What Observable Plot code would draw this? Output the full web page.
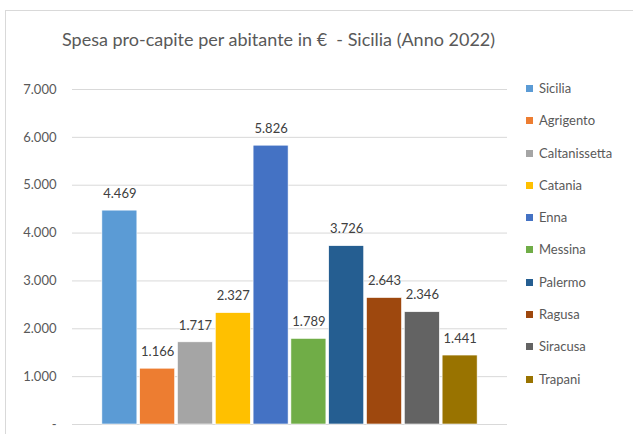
<!DOCTYPE html>
<html><head><meta charset="utf-8">
<script src="https://cdn.jsdelivr.net/npm/d3@7"></script>
<script src="https://cdn.jsdelivr.net/npm/@observablehq/plot@0.6"></script>
<style>
body{margin:0;background:#fff;font-family:Lato,"Open Sans",sans-serif;}
#wrap{position:relative;width:633px;height:434px;overflow:hidden;}
#border{position:absolute;left:5px;top:10px;width:640px;height:430px;border:1px solid #d9d9d9;box-sizing:border-box;}
#title{position:absolute;left:62px;top:28px;font-size:18px;color:#595959;white-space:nowrap;}
#legend{position:absolute;left:526px;top:80px;font-size:13px;color:#595959;}
.li{height:32.3px;display:flex;align-items:flex-start;line-height:17px;}
.sw{width:7px;height:7px;margin:5px 6px 0 0;}
#chart{position:absolute;left:0;top:0;}
</style></head>
<body><div id="wrap"><div id="border"></div><div id="chart"></div><div id="title">Spesa pro-capite per abitante in €&nbsp; - Sicilia (Anno 2022)</div><div id="legend"></div></div>
<script>
const categories = ["Sicilia","Agrigento","Caltanissetta","Catania","Enna","Messina","Palermo","Ragusa","Siracusa","Trapani"];
const values = [4469,1166,1717,2327,5826,1789,3726,2643,2346,1441];
const colors = ["#5B9BD5","#ED7D31","#A5A5A5","#FFC000","#4472C4","#70AD47","#255E91","#9E480E","#636363","#997300"];
const yTicks = [0,1000,2000,3000,4000,5000,6000,7000];

const it = d3.formatLocale({decimal:",",thousands:".",grouping:[3],currency:["","€"]});
const fmt = it.format(",d");
const tickFmt = v => v === 0 ? "-" : fmt(v);

const data = categories.map((c,i)=>({cat:c,val:values[i],col:colors[i]}));

const chart = Plot.plot({
  width:633, height:434,
  marginLeft:72, marginRight:126, marginTop:89, marginBottom:10,
  style:{fontFamily:"Lato, 'Open Sans', sans-serif", fontSize:"13px", color:"#595959", background:"transparent"},
  x:{domain:categories, paddingInner:0.074, paddingOuter:0.79, round:false, axis:null},
  y:{domain:[0,7000], axis:null},
  color:{domain:categories, range:colors},
  marks:[
    Plot.ruleY(yTicks,{stroke:"#d9d9d9", strokeWidth:1}),
    Plot.text(yTicks,{y:d=>d, text:tickFmt, frameAnchor:"left", dx:-16, textAnchor:"end", fill:"#595959", fontSize:13}),
    Plot.barY(data,{x:"cat", y:"val", fill:"cat", stroke:"#fff", strokeWidth:0.6}),
    Plot.text(data,{x:"cat", y:"val", text:d=>fmt(d.val), dy:-17, fill:"#404040", fontSize:13})
  ]
});
document.getElementById("chart").appendChild(chart);

const lg = document.getElementById("legend");
categories.forEach((c,i)=>{
  const d = document.createElement("div"); d.className="li";
  d.innerHTML = `<div class="sw" style="background:${colors[i]}"></div><span>${c}</span>`;
  lg.appendChild(d);
});
</script></body></html>
